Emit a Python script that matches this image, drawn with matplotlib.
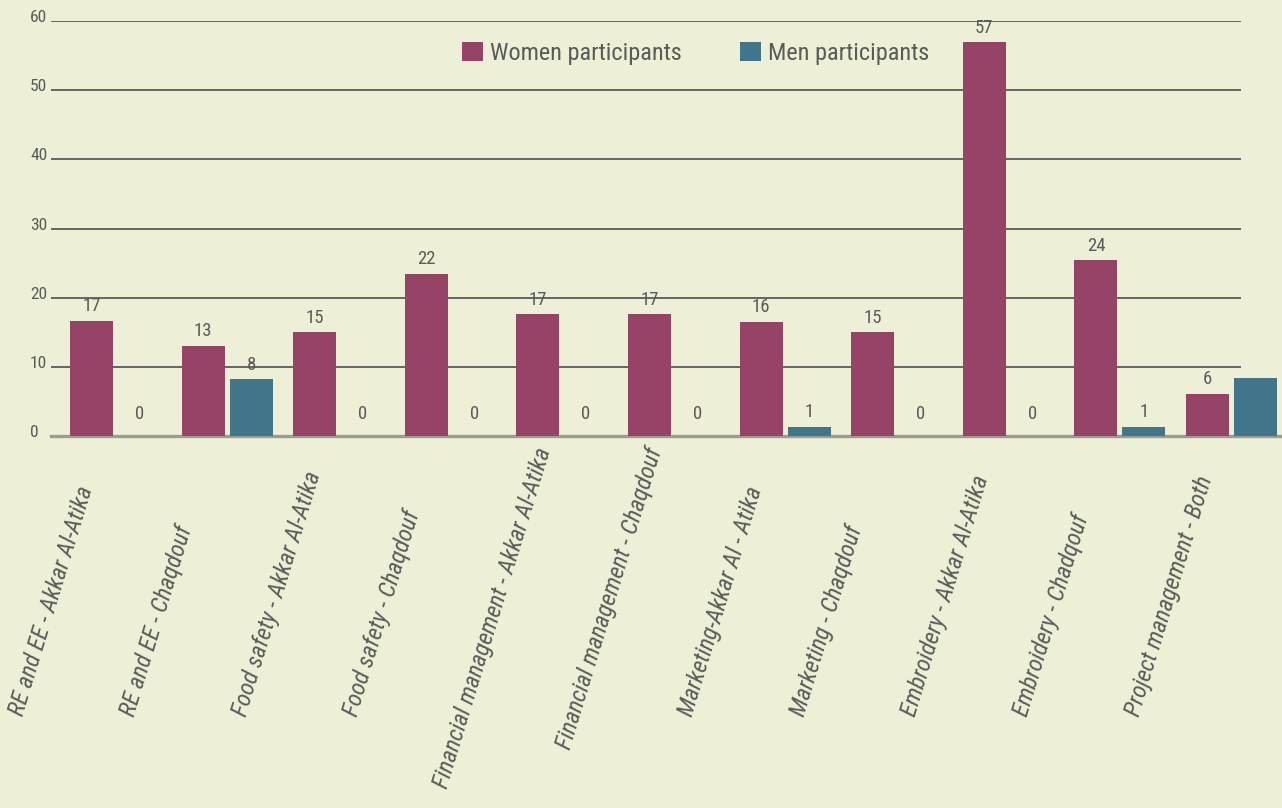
import numpy as np
import matplotlib.pyplot as plt
from matplotlib.transforms import IdentityTransform
from matplotlib import font_manager

# course names and participant counts
courses = [
    "RE and EE - Akkar Al-Atika",
    "RE and EE - Chaqdouf",
    "Food safety - Akkar Al-Atika",
    "Food safety - Chaqdouf",
    "Financial management - Akkar Al-Atika",
    "Financial management - Chaqdouf",
    "Marketing-Akkar Al - Atika",
    "Marketing - Chaqdouf",
    "Embroidery - Akkar Al-Atika",
    "Embroidery - Chadqouf",
    "Project management - Both",
]
# bar heights as drawn in the picture
women = [16.6, 13.0, 15.0, 23.4, 17.6, 17.6, 16.5, 15.0, 56.9, 25.4, 6.1]
men = [0, 8.2, 0, 0, 0, 0, 1.3, 0, 0, 1.3, 8.4]
# numbers printed above the bars
women_labels = [17, 13, 15, 22, 17, 17, 16, 15, 57, 24, 6]
men_labels = [0, 8, 0, 0, 0, 0, 1, 0, 0, 1, 8]
yticks = [0, 10, 20, 30, 40, 50, 60]

BG = "#edf0d6"
WOMEN_C = "#964368"
MEN_C = "#41768a"
TXT = "#5a5a5a"

# pick a narrow sans if one is installed
fonts = font_manager.fontManager.ttflist
names = {f.name for f in fonts}
chosen = None
for fam in ["Roboto Condensed", "Liberation Sans Narrow", "Noto Sans Condensed"]:
    if fam in names:
        chosen = fam
        break
if chosen is None:
    chosen = "Roboto"
plt.rcParams['font.family'] = [chosen, 'DejaVu Sans']

W, H = 1282, 808
fig = plt.figure(figsize=(W / 100, H / 100), dpi=100, facecolor=BG)
ax = fig.add_axes([51 / W, 1 - 436 / H, 1190 / W, 415 / H])
ax.set_facecolor(BG)

x = np.arange(len(courses))
bw = 0.385
ax.bar(x - 0.215, women, bw, color=WOMEN_C, zorder=3, clip_on=False,
       label="Women participants")
ax.bar(x + 0.215, men, bw, color=MEN_C, zorder=3, clip_on=False,
       label="Men participants")
ax.set_xlim(-0.578, 10.085)
ax.set_ylim(0, 60)
for s in ax.spines.values():
    s.set_visible(False)
ax.set_xticks([])
ax.set_yticks([])

for t in yticks[1:]:
    ax.axhline(t, color="#5a5a5a", lw=1.3, zorder=1)
ax.axhline(0, xmax=1.035, color="#9c9c96", lw=2.4, zorder=2, clip_on=False)

for t in yticks:
    ax.text(-21 / 1190, t - 0.15, str(t), transform=ax.get_yaxis_transform(),
            ha="left", va="baseline", fontsize=12.5, color=TXT)

for xs, vals, labs in [(x - 0.215, women, women_labels), (x + 0.215, men, men_labels)]:
    for xi, v, lab in zip(xs, vals, labs):
        off = 12 if lab == 0 else 7
        ax.annotate(str(lab), (xi, v), xytext=(0, off), textcoords="offset points",
                    ha="center", va="baseline", fontsize=13.5, color=TXT)

ax.legend(loc="upper left", bbox_to_anchor=(462 / W, 1 - 42 / H),
          bbox_transform=fig.transFigure, ncol=2, frameon=False, fontsize=17.5,
          handlelength=0.85, handleheight=0.85, handletextpad=0.3,
          columnspacing=2.4, borderpad=0, borderaxespad=0, labelcolor=TXT)

# rotated category labels, bottom aligned, pushed down if too long
ang = 73
labels = []
for xi, name in zip(x, courses):
    px = ax.transData.transform((xi, 0))[0] - 110
    t = fig.text(px, H - 712, name, transform=IdentityTransform(), rotation=ang,
                 rotation_mode="anchor", ha="left", va="top", fontsize=17.3,
                 style="italic", color=TXT)
    labels.append(t)

fig.canvas.draw()
r = fig.canvas.get_renderer()
c, s_ = np.cos(np.radians(ang)), np.sin(np.radians(ang))
for t in labels:
    bb = t.get_window_extent(r)
    over = bb.y1 - (H - 445)
    if over > 0:
        px, py = t.get_position()
        d = over / s_
        t.set_position((px - d * c, py - d * s_))

fig.savefig("out.png", dpi=100, facecolor=BG)
